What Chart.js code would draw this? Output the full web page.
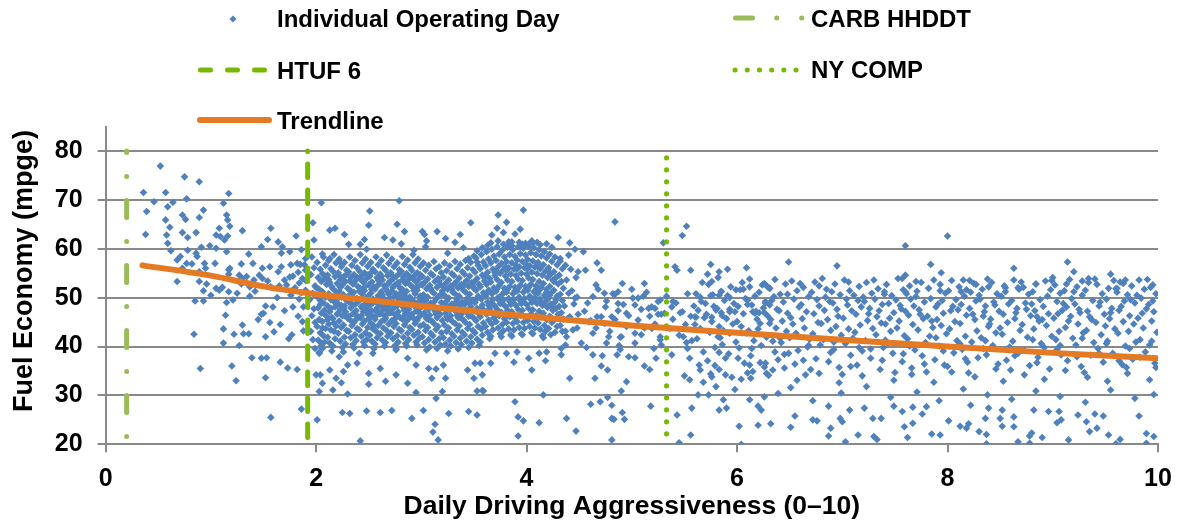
<!DOCTYPE html>
<html>
<head>
<meta charset="utf-8">
<title>Fuel Economy vs Daily Driving Aggressiveness</title>
<script src="https://cdn.jsdelivr.net/npm/chart.js@4.4.1/dist/chart.umd.min.js"></script>
<style>
  html, body { margin: 0; padding: 0; background: #fff; }
  #wrap { position: relative; width: 1177px; height: 526px; }
</style>
</head>
<body>
<div id="wrap"><canvas id="fuelChart"></canvas></div>
<script>
/**************************************************************
 * 1. Data
 *    day arrays are flat pairs: aggressiveness in hundredths,
 *    fuel economy in tenths of mpge
 **************************************************************/
const daysLow = [
  36,715, 52,769, 39,676, 38,629, 46,696, 57,715, 75,747, 89,737, 77,702, 64,695, 59,686, 93,679,
  73,669, 76,660, 89,664, 57,659, 61,644, 58,628, 73,633, 78,623, 86,633, 59,611, 62,596, 78,597,
  91,603, 71,584, 68,577, 77,570, 82,569, 73,560, 87,584, 94,570, 95,560, 89,553, 99,606, 105,601,
  112,693, 117,713, 115,669, 116,659, 118,646, 108,642, 105,628, 109,625, 116,626, 115,594, 130,637,
  104,570, 118,560, 129,569, 68,533, 89,533, 93,514, 85,493, 93,493, 100,505, 117,512, 121,495,
  115,490, 125,509, 114,464, 112,436, 122,425, 130,444, 131,426, 136,426, 112,407, 127,402, 84,425,
  90,355, 120,360, 124,330, 139,377, 148,376, 153,377, 152,336, 157,255, 152,420, 166,368, 173,356,
  182,353, 186,272, 177,424, 166,445, 156,449, 159,481, 152,483, 148,466, 150,468, 170,473, 178,481,
  188,481, 187,451, 188,432, 142,513, 137,503, 137,522, 134,543, 127,546, 129,528, 141,536, 146,546,
  149,539, 154,534, 157,522, 165,524, 170,536, 175,542, 178,544, 184,530, 187,539, 182,570, 176,567,
  185,568, 189,567, 167,563, 164,553, 156,563, 149,560, 167,591, 168,604, 164,614, 154,619, 148,604,
  157,642, 181,626, 175,594, 140,570, 136,589, 113,618, 86,591, 105,519, 117,548, 130,539, 117,557,
  111,521, 108,515, 96,528, 145,455, 160,430, 174,416, 183,462, 163,500, 176,505, 190,515, 184,497,
  190,580, 186,598, 190,556, 183,552, 172,526, 180,520, 190,535, 186,510
];

const daysCore = [
  205,694, 279,698, 251,677, 250,648, 277,650, 284,635, 301,635, 303,629, 315,635, 337,629, 347,653,
  323,621, 332,613, 305,616, 281,610, 273,618, 265,623, 246,619, 242,609, 248,599, 231,609, 227,629,
  218,642, 213,638, 197,653, 198,618, 340,602, 206,589, 213,580, 224,570, 293,597, 304,604, 325,591,
  345,580, 353,573,
  242,207, 201,250, 225,265, 232,263, 248,268, 261,265, 272,269, 291,253, 302,269, 313,241, 311,225,
  316,209, 326,263, 345,267, 353,260, 295,306, 314,294, 320,308, 230,303, 216,311, 203,308, 206,325,
  200,342, 204,342, 213,352, 219,335, 224,326, 226,349, 230,362, 239,366, 250,345, 250,323, 261,355,
  266,329, 276,342, 287,325, 287,376, 295,362, 307,355, 314,354, 310,335, 321,362, 323,335, 344,352,
  351,366, 356,366, 350,335, 353,309, 359,309, 222,379, 241,386, 254,386, 276,393, 203,388, 205,407,
  206,438,
  196,583, 198,561, 195,547, 199,524, 197,509, 194,496, 198,477, 196,463, 199,449, 195,431, 197,414, 199,396,
  201,572, 204,558, 202,541, 205,533, 203,517, 201,502, 204,494, 202,479, 205,468, 203,455, 201,441, 204,428,
  202,413, 205,402, 203,386, 200,521, 204,486,
  207,583, 209,566, 206,549, 208,538, 210,527, 206,512, 209,501, 207,489, 208,474, 210,462, 206,451, 209,437,
  207,422, 208,409, 206,396, 209,544, 207,468,
  212,576, 214,559, 211,546, 213,531, 215,522, 212,508, 214,496, 211,483, 213,471, 215,459, 212,446, 214,434,
  211,419, 213,407, 215,391, 212,537, 214,478, 211,455,
  217,588, 219,571, 216,554, 218,543, 220,529, 216,518, 219,504, 217,492, 218,481, 220,466, 216,457, 219,442,
  217,431, 218,416, 216,401, 219,512, 217,448, 220,497,
  222,579, 224,563, 221,551, 223,537, 225,526, 222,513, 224,501, 221,488, 223,476, 225,463, 222,452, 224,439,
  221,427, 223,411, 225,398, 222,545, 224,484, 221,469, 223,521,
  227,572, 229,556, 226,542, 228,533, 230,519, 226,506, 229,494, 227,483, 228,471, 230,458, 226,444, 229,433,
  227,419, 228,405, 226,389, 229,548, 227,463, 230,501, 226,478,
  232,583, 234,566, 231,553, 233,541, 235,528, 232,516, 234,503, 231,491, 233,479, 235,467, 232,455, 234,443,
  231,431, 233,418, 235,404, 232,534, 234,487, 231,462, 233,508, 235,449,
  237,576, 239,561, 236,547, 238,536, 240,522, 236,511, 239,498, 237,486, 238,473, 240,461, 236,449, 239,437,
  237,424, 238,412, 236,397, 239,541, 237,466, 240,492, 236,529, 238,455,
  242,588, 244,571, 241,555, 243,544, 245,531, 242,519, 244,507, 241,495, 243,482, 245,471, 242,459, 244,446,
  241,434, 243,421, 245,409, 242,538, 244,478, 241,513, 243,463,
  247,579, 249,564, 246,551, 248,539, 250,526, 246,514, 249,502, 247,488, 248,476, 250,464, 246,452, 249,439,
  247,428, 248,414, 246,402, 249,546, 247,493, 250,457, 246,521, 248,469,
  252,572, 254,558, 251,544, 253,532, 255,521, 252,509, 254,497, 251,484, 253,473, 255,461, 252,448, 254,436,
  251,423, 253,411, 255,396, 252,551, 254,489, 251,466, 253,517, 255,442,
  257,583, 259,567, 256,553, 258,541, 260,528, 256,517, 259,504, 257,491, 258,479, 260,467, 256,456, 259,443,
  257,431, 258,418, 256,405, 259,536, 257,472, 260,498, 256,461, 258,524,
  262,576, 264,561, 261,548, 263,536, 265,524, 262,512, 264,499, 261,487, 263,474, 265,463, 262,451, 264,438,
  261,426, 263,413, 265,401, 262,543, 264,481, 261,467, 263,506, 265,454,
  267,587, 269,570, 266,556, 268,545, 270,533, 266,519, 269,507, 267,494, 268,482, 270,469, 266,458, 269,446,
  267,433, 268,421, 266,408, 269,529, 267,476, 270,498, 266,463, 268,512,
  272,579, 274,563, 271,551, 273,538, 275,526, 272,514, 274,502, 271,489, 273,477, 275,465, 272,453, 274,441,
  271,428, 273,416, 275,402, 272,546, 274,484, 271,469, 273,521, 275,457,
  277,571, 279,557, 276,543, 278,531, 280,519, 276,508, 279,496, 277,483, 278,471, 280,459, 276,447, 279,435,
  277,422, 278,409, 276,395, 279,549, 277,465, 280,502, 276,489, 278,527,
  282,584, 284,568, 281,554, 283,542, 285,529, 282,517, 284,505, 281,492, 283,480, 285,468, 282,456, 284,444,
  281,432, 283,419, 285,406, 282,536, 284,474, 281,511, 283,461, 285,498,
  287,577, 289,562, 286,549, 288,537, 290,525, 286,513, 289,501, 287,488, 288,476, 290,464, 286,452, 289,439,
  287,427, 288,414, 286,401, 289,543, 287,468, 290,494, 286,531, 288,457,
  292,588, 294,571, 291,556, 293,544, 295,532, 292,521, 294,508, 291,496, 293,483, 295,472, 292,459, 294,447,
  291,435, 293,423, 295,409, 292,539, 294,489, 291,466, 293,514, 295,452,
  297,579, 299,564, 296,551, 298,539, 300,527, 296,515, 299,503, 297,491, 298,478, 300,466, 296,454, 299,442,
  297,429, 298,417, 296,403, 299,547, 297,472, 300,496, 296,521, 298,461
];

const daysLobe = [
  302,571, 304,556, 301,543, 303,531, 305,518, 302,506, 304,494, 301,482, 303,469, 305,457, 302,445, 304,433,
  301,420, 303,407, 305,393, 302,488, 304,462, 301,526,
  307,566, 309,549, 306,538, 308,525, 310,513, 306,501, 309,489, 307,476, 308,464, 310,452, 306,439, 309,427,
  307,414, 308,399, 306,482, 309,518, 307,455,
  312,574, 314,559, 311,546, 313,533, 315,521, 312,509, 314,497, 311,484, 313,472, 315,459, 312,447, 314,435,
  311,422, 313,409, 315,396, 312,491, 314,466,
  317,563, 319,551, 316,539, 318,527, 320,514, 316,502, 319,490, 317,478, 318,466, 320,453, 316,441, 319,428,
  317,416, 318,403, 316,473, 319,508, 317,534,
  322,571, 324,555, 321,542, 323,529, 325,517, 322,505, 324,493, 321,481, 323,468, 325,456, 322,444, 324,431,
  321,418, 323,405, 325,391, 322,487, 324,461, 321,523,
  327,565, 329,549, 326,536, 328,524, 330,511, 326,499, 329,487, 327,475, 328,463, 330,450, 326,438, 329,426,
  327,413, 328,401, 326,481, 329,517, 327,457,
  332,574, 334,559, 331,545, 333,532, 335,520, 332,508, 334,496, 331,484, 333,471, 335,459, 332,447, 334,434,
  331,421, 333,408, 335,395, 332,489, 334,464, 331,527,
  337,568, 339,553, 336,540, 338,527, 340,515, 336,503, 339,491, 337,479, 338,466, 340,454, 336,442, 339,429,
  337,417, 338,404, 336,485, 339,521, 337,459,
  342,576, 344,561, 341,548, 343,535, 345,523, 342,511, 344,499, 341,486, 343,474, 345,462, 342,449, 344,437,
  341,424, 343,411, 345,398, 342,492, 344,468, 341,529,
  347,572, 349,557, 346,544, 348,531, 350,519, 346,507, 349,495, 347,482, 348,470, 350,458, 346,445, 349,433,
  347,420, 348,407, 346,488, 349,524, 347,463, 350,585,
  352,581, 354,566, 351,552, 353,539, 355,527, 352,515, 354,503, 351,490, 353,478, 355,466, 352,453, 354,441,
  351,428, 353,415, 355,402, 352,496, 354,471, 351,534, 353,596,
  357,588, 359,573, 356,559, 358,546, 360,534, 356,522, 359,510, 357,497, 358,485, 360,473, 356,461, 359,448,
  357,436, 358,423, 356,409, 359,503, 357,479, 360,541, 358,602,
  362,594, 364,579, 361,565, 363,552, 365,539, 362,527, 364,515, 361,503, 363,491, 365,478, 362,466, 364,454,
  361,441, 363,429, 365,416, 362,508, 364,484, 361,546, 363,607,
  367,599, 369,585, 366,571, 368,558, 370,545, 366,532, 369,520, 367,508, 368,496, 370,483, 366,471, 369,459,
  367,446, 368,434, 366,421, 369,513, 367,489, 370,551, 366,612,
  372,604, 374,589, 371,576, 373,563, 375,550, 372,537, 374,525, 371,513, 373,500, 375,488, 372,476, 374,463,
  371,451, 373,438, 375,426, 372,518, 374,494, 371,556, 373,616,
  377,597, 379,583, 376,570, 378,557, 380,544, 376,531, 379,519, 377,507, 378,495, 380,482, 376,470, 379,457,
  377,445, 378,432, 376,420, 379,512, 377,488, 380,563, 378,609,
  382,603, 384,588, 381,574, 383,561, 385,548, 382,536, 384,523, 381,511, 383,498, 385,486, 382,474, 384,461,
  381,449, 383,436, 385,424, 382,517, 384,492, 381,555, 383,614,
  387,598, 389,584, 386,571, 388,558, 390,545, 386,533, 389,521, 387,508, 388,496, 390,484, 386,471, 389,459,
  387,447, 388,434, 386,421, 389,514, 387,490, 390,566, 386,606,
  392,604, 394,590, 391,577, 393,563, 395,550, 392,538, 394,525, 391,513, 393,501, 395,488, 392,476, 394,464,
  391,451, 393,439, 395,426, 392,519, 394,494, 391,558, 393,613,
  397,601, 399,587, 396,574, 398,561, 400,548, 396,535, 399,523, 397,511, 398,498, 400,486, 396,474, 399,461,
  397,449, 398,437, 396,424, 399,516, 397,491, 400,567, 396,609,
  402,605, 404,592, 401,578, 403,565, 405,552, 402,540, 404,527, 401,515, 403,503, 405,490, 402,478, 404,466,
  401,453, 403,441, 405,428, 402,521, 404,496, 401,559, 403,611,
  407,602, 409,588, 406,575, 408,562, 410,549, 406,537, 409,524, 407,512, 408,500, 410,488, 406,475, 409,463,
  407,451, 408,438, 406,426, 409,517, 407,493, 410,568, 406,612,
  412,598, 414,585, 411,572, 413,559, 415,546, 412,533, 414,521, 411,509, 413,497, 415,484, 412,472, 414,460,
  411,448, 413,435, 415,422, 412,515, 414,489, 411,563, 413,608,
  417,594, 419,581, 416,567, 418,554, 420,541, 416,529, 419,517, 417,505, 418,492, 420,480, 416,468, 419,455,
  417,443, 418,431, 416,418, 419,511, 417,486, 420,557,
  422,589, 424,574, 421,561, 423,548, 425,536, 422,523, 424,511, 421,499, 423,487, 425,474, 422,462, 424,449,
  421,437, 423,424, 422,505, 424,482, 421,553,
  427,583, 429,567, 426,553, 428,541, 430,528, 426,515, 429,503, 427,491, 428,478, 430,466, 426,454, 429,441,
  427,429, 428,496, 426,533,
  432,575, 434,559, 431,546, 433,533, 435,519, 432,507, 434,494, 431,482, 433,469, 435,456, 432,443, 434,431,
  437,566, 438,536, 440,509, 436,483, 439,457, 437,431,
  442,558, 443,514, 445,487, 441,461, 444,434, 447,541, 446,499, 449,466, 448,438
];

const daysMid = [
  397,679, 373,669, 381,654, 484,655, 372,642, 378,633, 389,630, 394,640, 367,628, 430,623, 441,612,
  405,616, 410,613, 399,611, 386,614, 419,610, 424,603, 446,599, 454,594, 440,587, 432,580, 449,553,
  456,556, 467,571, 471,556, 466,526, 491,529, 500,517, 512,529, 530,612, 541,563, 543,556, 448,501,
  474,509, 484,507, 487,512, 506,499, 511,503, 527,495, 539,492, 487,488, 475,481, 467,461, 481,461,
  495,468, 503,485, 516,478, 525,466, 459,451, 463,427, 478,420, 476,407, 490,420, 503,407, 509,424,
  519,437, 527,420, 528,403, 497,379, 489,394, 486,383, 463,383, 452,407, 437,403, 438,420, 433,396,
  433,383, 418,371, 419,389, 412,386, 402,376, 405,352, 388,368, 391,389, 381,386, 370,386, 366,366,
  358,342, 358,310, 441,335, 465,335, 471,360, 477,352, 495,328, 461,282, 470,287, 477,296, 481,280,
  490,309, 512,360, 517,353, 523,376, 416,301, 389,287, 392,256, 397,248, 392,217, 412,244, 438,253,
  447,227, 481,253, 483,251, 491,265, 493,251, 481,209, 518,278, 543,260,
  455,472, 458,489, 461,453, 463,502, 466,438, 468,517, 471,461, 474,447, 476,493, 479,431, 482,508,
  484,455, 487,473, 489,419, 492,486, 495,441, 497,463, 501,499, 503,427, 506,454, 509,476, 512,438,
  514,511, 517,462, 519,481, 522,446, 525,492, 527,414, 531,468, 533,503, 536,437, 539,456, 542,489,
  545,423, 548,471, 551,445, 553,508, 556,462, 559,483, 457,398, 472,381, 488,402, 503,377, 521,396,
  538,383, 552,408
];

const daysHigh = [
  552,646, 548,627, 556,556, 575,568, 572,548, 583,553, 591,558, 609,561, 576,533, 626,529, 629,522,
  565,501, 575,504, 583,505, 585,513, 593,500, 599,516, 606,517, 612,522, 610,486, 627,492, 631,485,
  560,461, 546,469, 580,475, 585,469, 593,471, 615,471, 621,469, 522,478, 528,466, 538,481,
  561,460, 576,460, 593,476, 617,468, 626,469, 631,447, 583,441, 582,420, 549,420, 553,396, 583,388,
  555,376, 550,340, 555,332, 565,352, 576,338, 604,333, 610,346, 628,345, 627,366, 612,362, 636,389,
  563,301, 587,291, 590,274, 583,270, 557,274, 612,291, 620,278, 623,270, 602,237, 620,239, 632,242,
  556,219, 545,203, 604,200,
  649,573, 695,565, 760,606, 800,626, 784,568, 794,551, 757,539, 760,546, 770,533, 706,532, 678,524,
  631,519, 863,560, 914,573, 920,553, 955,548, 934,539, 928,534, 899,535, 884,528, 821,535, 827,527,
  855,520, 867,520, 995,526, 967,529, 969,536, 961,519, 913,528, 839,522, 813,512, 818,516, 793,514,
  760,512, 740,507, 648,507,
  651,235, 655,258, 672,250, 676,248, 687,217, 689,233, 698,253, 700,246, 703,205, 715,219, 729,253,
  737,253, 730,216, 733,210, 759,236, 762,214, 767,243, 776,262, 785,221, 793,219, 801,248, 812,237,
  818,233, 820,242, 830,226, 837,220, 837,201, 836,253, 850,253, 852,237, 863,256, 863,236, 867,205,
  878,217, 880,223, 878,202, 890,214, 904,244, 908,250, 915,209, 932,246, 935,226, 942,233, 953,219,
  960,201, 964,210, 989,222, 989,202, 996,216, 982,258, 948,258, 940,262, 924,260, 906,267, 896,267,
  882,270, 852,270, 839,274, 822,280, 780,277, 767,276, 757,267, 749,278, 721,274, 707,270, 687,278,
  639,304,
  561,508, 567,531, 563,474, 569,459, 565,437, 562,416, 568,389, 564,362, 566,492, 560,445,
  573,527, 578,482, 571,466, 576,451, 574,429, 579,398, 572,371, 577,506, 575,344, 570,488,
  582,541, 585,512, 588,494, 581,478, 587,433, 584,418, 589,376, 583,353, 586,463, 580,318,
  594,522, 591,504, 598,471, 596,446, 593,427, 599,409, 592,385, 597,488, 595,337, 590,457,
  603,516, 608,498, 601,482, 606,467, 604,441, 609,428, 602,397, 607,366, 605,531, 600,451,
  612,538, 617,503, 614,485, 619,456, 611,432, 616,412, 613,381, 618,472, 615,349, 610,495,
  624,526, 621,511, 627,489, 629,463, 622,447, 628,419, 623,402, 626,358, 625,479, 620,436,
  631,519, 636,537, 633,494, 638,476, 632,455, 637,438, 634,411, 639,373, 635,502, 630,341,
  646,528, 641,507, 648,468, 643,452, 647,431, 642,408, 649,386, 644,491, 645,356, 640,473,
  652,534, 657,514, 654,497, 659,481, 651,459, 656,427, 653,446, 658,392, 655,364, 650,418,
  663,521, 668,502, 661,486, 666,471, 664,438, 669,415, 662,457, 667,399, 665,342, 660,529,
  674,532, 671,511, 678,483, 673,467, 677,449, 672,426, 679,403, 675,375, 676,496, 670,353,
  685,517, 681,539, 688,492, 683,474, 686,455, 689,433, 682,414, 687,369, 684,501, 680,447,
  693,528, 698,506, 691,489, 696,462, 694,441, 699,423, 692,394, 697,357, 695,476, 690,512,
  702,536, 707,514, 704,497, 709,473, 701,458, 706,436, 703,406, 708,382, 705,485, 700,343,
  716,523, 711,505, 718,481, 713,466, 717,444, 712,429, 719,391, 714,362, 715,494, 710,417,
  723,531, 728,509, 721,492, 726,478, 724,453, 729,437, 722,412, 727,376, 725,467, 720,501,
  734,518, 731,497, 738,486, 733,461, 737,448, 732,424, 739,398, 736,353, 735,473, 730,536,
  742,527, 747,504, 744,488, 749,469, 741,446, 746,431, 743,407, 748,386, 745,458, 740,512,
  753,539, 758,516, 751,495, 756,477, 754,452, 759,422, 752,438, 757,369, 755,484, 750,347,
  764,524, 761,508, 768,483, 763,464, 767,445, 762,416, 769,393, 766,356, 765,497, 760,472,
  775,531, 771,513, 778,491, 773,475, 777,457, 772,434, 779,408, 776,381, 774,466, 770,502,
  782,519, 787,536, 784,498, 789,481, 781,462, 786,439, 783,421, 788,373, 785,452, 780,348,
  793,527, 798,509, 791,487, 796,468, 794,443, 799,426, 792,401, 797,362, 795,494, 790,455,
  804,535, 801,514, 808,496, 803,473, 807,451, 802,436, 809,412, 806,387, 805,482, 800,359,
  811,522, 816,503, 813,486, 818,464, 812,447, 817,421, 814,394, 819,368, 815,536, 810,475,
  825,529, 822,511, 827,493, 821,478, 826,455, 828,432, 823,409, 829,377, 824,466, 820,346,
  833,517, 838,538, 831,497, 836,483, 834,462, 839,441, 832,418, 837,383, 835,471, 830,505,
  842,531, 847,508, 844,491, 849,472, 841,456, 846,428, 843,402, 848,364, 845,485, 840,446,
  854,524, 851,503, 858,487, 853,466, 857,449, 852,425, 859,397, 856,372, 855,512, 850,438,
  863,536, 868,517, 861,494, 866,478, 864,457, 869,433, 862,411, 867,386, 865,469, 860,352,
  872,521, 877,507, 874,489, 879,463, 871,445, 876,419, 873,392, 878,361, 875,476, 870,532,
  884,528, 881,512, 888,496, 883,473, 887,452, 882,436, 889,406, 886,378, 885,461, 880,487,
  893,534, 898,516, 891,482, 896,467, 894,443, 899,421, 892,398, 897,354, 895,503, 890,455,
  902,526, 907,509, 904,492, 909,474, 901,458, 906,431, 903,414, 908,383, 905,467, 900,541,
  916,537, 911,514, 918,498, 913,481, 917,462, 912,439, 919,417, 914,371, 915,452, 910,488,
  923,522, 928,505, 921,487, 926,469, 924,446, 929,428, 922,403, 927,359, 925,476, 920,512,
  934,531, 931,515, 938,494, 933,472, 937,455, 932,433, 939,408, 936,382, 935,461, 930,347,
  942,527, 947,508, 944,483, 949,466, 941,449, 946,424, 943,396, 948,368, 945,491, 940,538,
  953,519, 958,535, 951,497, 956,478, 954,457, 959,436, 952,411, 957,386, 955,469, 950,442,
  964,532, 961,511, 968,493, 963,474, 967,451, 962,427, 969,401, 966,363, 965,482, 960,518,
  975,524, 971,506, 978,489, 973,463, 977,446, 972,431, 979,409, 976,374, 974,496, 970,357,
  982,536, 987,517, 984,499, 989,477, 981,458, 986,438, 983,414, 988,389, 985,468, 980,505,
  993,521, 998,508, 991,486, 996,471, 994,452, 999,429, 992,403, 997,366, 995,493, 990,537,
  568,327, 579,361, 589,342, 601,376, 613,335, 622,367, 634,352, 645,384, 657,331, 663,372, 678,345,
  689,388, 697,326, 708,359, 719,340, 727,395, 738,372, 749,331, 758,385, 766,343, 778,364, 787,327,
  796,391, 804,348, 817,375, 826,338, 834,396, 846,354, 853,329, 864,381, 873,342, 885,367, 892,333,
  904,394, 912,351, 923,379, 933,337, 944,386, 952,329, 963,371, 971,345, 983,378, 992,332, 998,357,
  573,301, 598,312, 626,297, 651,316, 672,289, 699,305, 723,318, 746,296, 771,307, 792,289, 815,313,
  838,301, 861,292, 884,309, 907,298, 931,286, 955,311, 978,294, 996,302,
  557,412, 586,404, 614,396, 641,417, 668,402, 692,409, 716,398, 741,413, 764,401, 789,418, 812,405,
  836,412, 859,399, 881,414, 907,402, 928,417, 951,406, 973,396, 994,411
];

// trendline (mpge) read at these aggressiveness values
const trendX = [0.35, 1, 1.5, 2, 2.5, 3, 3.5, 4, 5, 6, 7, 8, 9, 10];
const trendY = [56.6, 54.5, 52.3, 50.7, 49.5, 48.3, 47.2, 46.2, 44.3, 42.8, 41.4, 40.0, 38.7, 37.6];

// drive cycle reference lines: aggressiveness, bottom and top of the line (mpge)
const cycleNames = ["CARB HHDDT", "HTUF 6", "NY COMP"];
const cycleX = [0.2, 1.92, 5.33];
const cycleLow = [21.6, 20.8, 20];
const cycleHigh = [80, 80, 78.6];

const xTicks = [0, 2, 4, 6, 8, 10];
const yTicks = [20, 30, 40, 50, 60, 70, 80];

/**************************************************************
 * 2. Helpers
 **************************************************************/
function toPoints(flat) {
  const pts = [];
  for (let i = 0; i < flat.length; i += 2) {
    pts.push({ x: flat[i] / 100, y: flat[i + 1] / 10 });
  }
  return pts;
}

const dayPoints = [].concat(
  toPoints(daysLow), toPoints(daysCore), toPoints(daysLobe),
  toPoints(daysMid), toPoints(daysHigh)
);
const trendPoints = trendX.map((x, i) => ({ x: x, y: trendY[i] }));

const BLUE = "#4F81BD";
const ORANGE = "#E57A24";
const LIGHT_GREEN = "#9BBB59";
const GREEN = "#77B800";
const GRID = "#898989";
const FONT = '"Liberation Sans", Arial, sans-serif';

// CARB drawn bottom-up (dot first), the other two top-down
function cyclePoints(i) {
  const lo = { x: cycleX[i], y: cycleLow[i] };
  const hi = { x: cycleX[i], y: cycleHigh[i] };
  return i === 0 ? [lo, hi] : [hi, lo];
}

/**************************************************************
 * 3. Legend + y title drawn on the canvas
 **************************************************************/
const overlay = {
  id: "overlay",
  afterDraw(chart) {
    const ctx = chart.ctx;
    const ds = chart.data.datasets;
    ctx.save();

    // y axis title
    ctx.font = "bold 27px " + FONT;
    ctx.fillStyle = "#000";
    ctx.textAlign = "center";
    ctx.textBaseline = "alphabetic";
    ctx.translate(32, 271);
    ctx.rotate(-Math.PI / 2);
    ctx.fillText("Fuel Economy (mpge)", 0, 0);
    ctx.setTransform(1, 0, 0, 1, 0, 0);

    // legend text
    ctx.font = "bold 24px " + FONT;
    ctx.textAlign = "left";
    ctx.fillText(ds[0].label, 277, 27);
    ctx.fillText(ds[2].label, 277, 79);
    ctx.fillText(ds[4].label, 277, 129);
    ctx.fillText(ds[1].label, 811, 27);
    ctx.fillText(ds[3].label, 811, 78);

    // scatter marker
    ctx.fillStyle = BLUE;
    ctx.beginPath();
    ctx.moveTo(233, 15.5);
    ctx.lineTo(236.5, 19);
    ctx.lineTo(233, 22.5);
    ctx.lineTo(229.5, 19);
    ctx.closePath();
    ctx.fill();

    ctx.lineCap = "round";
    ctx.lineWidth = 5;

    // CARB HHDDT: dash dot dot
    ctx.strokeStyle = LIGHT_GREEN;
    ctx.setLineDash([17, 24.2, 0.1, 24.9, 0.1, 100]);
    ctx.beginPath();
    ctx.moveTo(735.5, 18);
    ctx.lineTo(803, 18);
    ctx.stroke();

    // HTUF 6: long dashes
    ctx.strokeStyle = GREEN;
    ctx.setLineDash([10, 17]);
    ctx.beginPath();
    ctx.moveTo(200.5, 70);
    ctx.lineTo(267, 70);
    ctx.stroke();

    // NY COMP: dots
    ctx.setLineDash([0.1, 12.1]);
    ctx.beginPath();
    ctx.moveTo(735, 70);
    ctx.lineTo(797, 70);
    ctx.stroke();

    // Trendline
    ctx.strokeStyle = ORANGE;
    ctx.lineWidth = 6;
    ctx.setLineDash([]);
    ctx.beginPath();
    ctx.moveTo(200, 120);
    ctx.lineTo(269, 120);
    ctx.stroke();

    ctx.restore();
  }
};

/**************************************************************
 * 4. Chart
 **************************************************************/
const ctx = document.getElementById("fuelChart").getContext("2d");

new Chart(ctx, {
  type: "scatter",
  data: {
    datasets: [
      {
        label: "Individual Operating Day",
        data: dayPoints,
        pointStyle: "rectRot",
        pointRadius: 3.8,
        pointBorderWidth: 0,
        backgroundColor: BLUE,
        borderColor: BLUE,
        order: 10
      },
      {
        type: "line",
        label: cycleNames[0],
        data: cyclePoints(0),
        borderColor: LIGHT_GREEN,
        borderWidth: 5,
        borderDash: [0.1, 24, 17, 23.9],
        borderCapStyle: "round",
        pointRadius: 0,
        order: 4
      },
      {
        type: "line",
        label: cycleNames[1],
        data: cyclePoints(1),
        borderColor: GREEN,
        borderWidth: 5,
        borderDash: [13.5, 12.5],
        borderDashOffset: 13,
        borderCapStyle: "round",
        pointRadius: 0,
        order: 3
      },
      {
        type: "line",
        label: cycleNames[2],
        data: cyclePoints(2),
        borderColor: GREEN,
        borderWidth: 5,
        borderDash: [0.1, 11.9],
        borderCapStyle: "round",
        pointRadius: 0,
        order: 2
      },
      {
        type: "line",
        label: "Trendline",
        data: trendPoints,
        borderColor: ORANGE,
        borderWidth: 6,
        borderCapStyle: "round",
        cubicInterpolationMode: "monotone",
        pointRadius: 0,
        order: 1
      }
    ]
  },
  options: {
    responsive: true,
    maintainAspectRatio: false,
    animation: false,
    events: [],
    layout: { padding: { left: 0, right: 19, top: 126.5, bottom: 0 } },
    plugins: {
      legend: { display: false },
      tooltip: { enabled: false }
    },
    scales: {
      x: {
        type: "linear",
        min: 0,
        max: 10,
        afterFit: (scale) => {
          scale.height = 81.7;
          // keep the plot edge fixed; the "10" label fits in the right margin
          scale.paddingLeft = 0;
          scale.paddingRight = 0;
        },
        afterBuildTicks: (scale) => { scale.ticks = xTicks.map(v => ({ value: v })); },
        ticks: {
          color: "#000",
          padding: 12,
          font: { family: FONT, size: 25, weight: "bold" }
        },
        grid: { drawOnChartArea: false, color: GRID, lineWidth: 2, tickLength: 8 },
        border: { color: GRID, width: 2 },
        title: {
          display: true,
          text: "Daily Driving Aggressiveness (0–10)",
          color: "#000",
          padding: { top: 0, bottom: 3 },
          font: { family: FONT, size: 26.5, weight: "bold" }
        }
      },
      y: {
        type: "linear",
        min: 20,
        max: 85,
        afterFit: (scale) => { scale.width = 105.6; },
        afterBuildTicks: (scale) => { scale.ticks = yTicks.map(v => ({ value: v })); },
        ticks: {
          color: "#000",
          padding: 15,
          font: { family: FONT, size: 25, weight: "bold" }
        },
        grid: { color: GRID, lineWidth: 2, tickLength: 8 },
        border: { color: GRID, width: 2 }
      }
    }
  },
  plugins: [overlay]
});
</script>
</body>
</html>
